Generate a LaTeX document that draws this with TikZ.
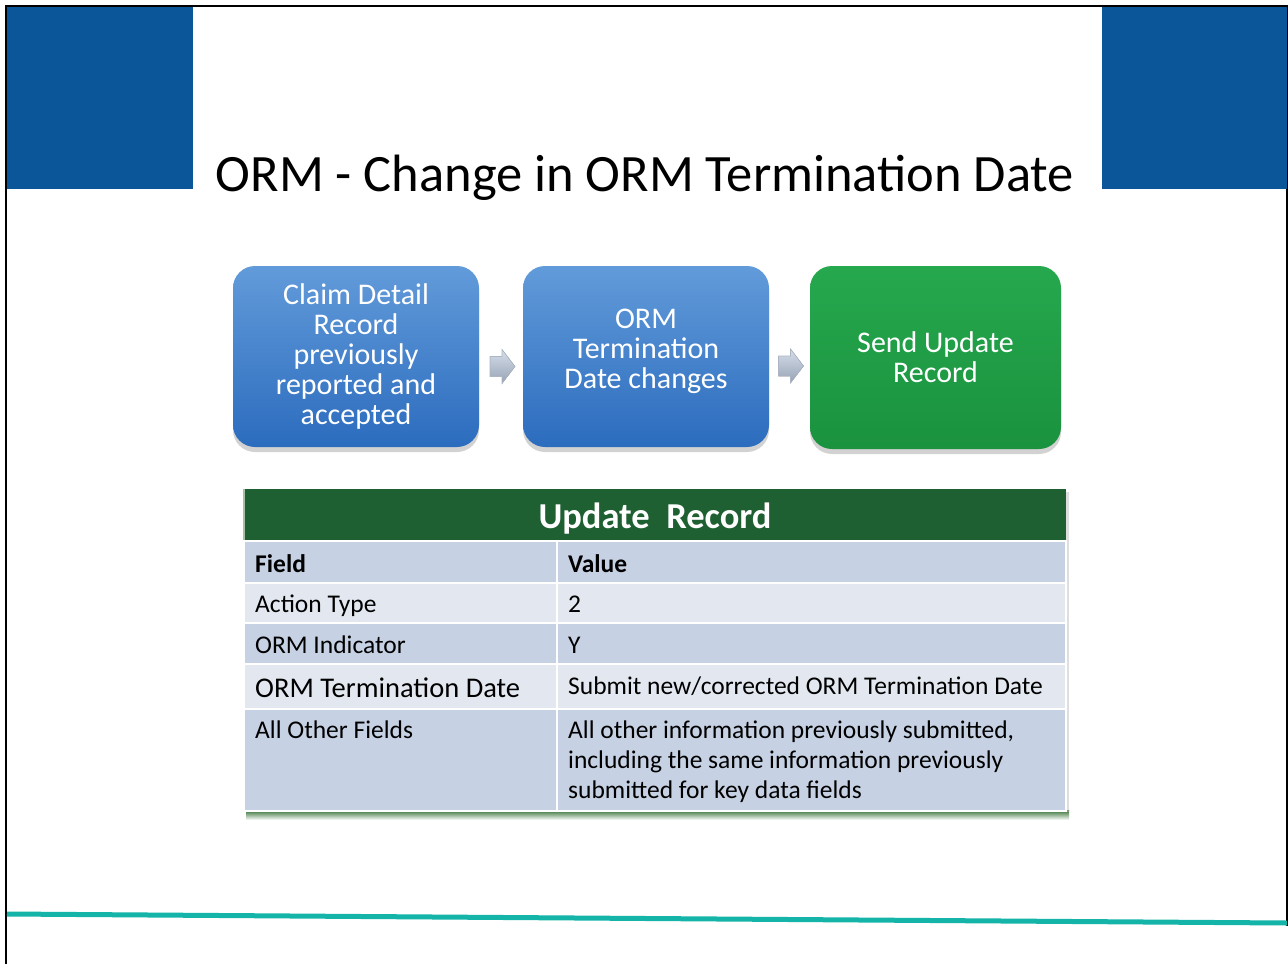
\documentclass[tikz,border=0pt]{standalone}
\usepackage{fontspec}
\setmainfont{Carlito}
\usetikzlibrary{calc,shadows}
\definecolor{hdrblue}{RGB}{11,86,153}
\definecolor{lineteal}{RGB}{20,180,168}
\definecolor{boxtop}{RGB}{98,155,218}
\definecolor{boxbot}{RGB}{44,108,190}
\definecolor{grntop}{RGB}{38,168,78}
\definecolor{grnbot}{RGB}{26,146,62}
\definecolor{tblhead}{RGB}{30,96,50}
\definecolor{rowdark}{RGB}{198,209,227}
\definecolor{rowlight}{RGB}{227,232,240}
\definecolor{arrtop}{RGB}{214,222,234}
\definecolor{arrbot}{RGB}{150,162,180}
\tikzset{
  boxfont/.style={text=white, align=center, font=\fontsize{30}{30}\selectfont},
  stepbox/.style={rounded corners=22pt, minimum width=246pt, minimum height=181pt,
    boxfont, inner sep=0pt,
    drop shadow={shadow xshift=0pt, shadow yshift=-5pt, opacity=0.35}},
  bluebox/.style={stepbox, top color=boxtop, bottom color=boxbot},
  greenbox/.style={stepbox, top color=grntop, bottom color=grnbot},
  flowarrow/.style={top color=arrtop, bottom color=arrbot, draw=arrbot!80!white, line width=0.6pt},
  celltext/.style={anchor=base west, inner sep=0pt, font=\fontsize{25.5}{30}\selectfont, text=black},
  cellbold/.style={celltext, font=\fontsize{25.5}{30}\selectfont\bfseries},
  darkcell/.style={fill=rowdark, draw=white, line width=1.5pt},
  lightcell/.style={fill=rowlight, draw=white, line width=1.5pt}
}
\begin{document}
\begin{tikzpicture}[x=1pt,y=-1pt]
\useasboundingbox (0,0) rectangle (1288,964);
\fill[white] (0,0) rectangle (1288,964);
% frame
\draw[line width=1.5pt] (6,964) -- (6,6) -- (1287,6) -- (1287,926);
% blue corner blocks
\fill[hdrblue] (7,7) rectangle (193,189);
\fill[hdrblue] (1102,7) rectangle (1287,189);
% bottom teal line
\draw[lineteal, line width=5pt] (7,914) -- (1287,923);
% title
\node[anchor=base, inner sep=0pt, font=\fontsize{52.5}{60}\selectfont] (title) at (645,191) {ORM - Change in ORM Termination Date};
% process boxes
\node[bluebox] (b1) at (356,356.5) {Claim Detail\\Record\\previously\\reported and\\accepted};
\node[bluebox] (b2) at (646,356.5) {};
\node[boxfont, inner sep=0pt] (b2t) at ($(b2.center)+(0,-5)$) {ORM\\Termination\\Date changes};
\node[greenbox, minimum width=251pt, minimum height=183pt] (b3) at (935.5,357.5) {Send Update\\Record};
% arrows
\coordinate (a1) at ($(b1.east)!0.5!(b2.west)+(1,10)$);
\coordinate (a2) at ($(b2.east)!0.5!(b3.west)+(1,9)$);
\foreach \a in {a1,a2}{
  \filldraw[flowarrow] ([shift={(-12,-10)}]\a) -- ([shift={(0,-10)}]\a) -- ([shift={(0,-17)}]\a)
    -- ([shift={(13,0)}]\a) -- ([shift={(0,17)}]\a) -- ([shift={(0,10)}]\a)
    -- ([shift={(-12,10)}]\a) -- cycle;
}
% table
\shade[top color=green!30!black, bottom color=white, opacity=0.8] (246,810) rectangle (1069,820);
\fill[black!25, opacity=0.5] (1066,492) rectangle (1069,812);
\fill[tblhead] (244,489) rectangle (1066,540);
\draw[green!20!gray!60, line width=1.5pt] (244,489) -- (244,811);
\path[darkcell] (244,541) rectangle (557,583);
\path[darkcell] (557,541) rectangle (1066,583);
\path[lightcell] (244,583) rectangle (557,623);
\path[lightcell] (557,583) rectangle (1066,623);
\path[darkcell] (244,623) rectangle (557,664);
\path[darkcell] (557,623) rectangle (1066,664);
\path[lightcell] (244,664) rectangle (557,709);
\path[lightcell] (557,664) rectangle (1066,709);
\path[darkcell] (244,709) rectangle (557,811);
\path[darkcell] (557,709) rectangle (1066,811);
\node[anchor=base, inner sep=0pt, text=white, font=\fontsize{36.5}{40}\selectfont\bfseries] (hdr) at (655,528) {Update\ \ Record};
\node[cellbold] (h1) at (255,572) {Field};
\node[cellbold] (h2) at (568,572) {Value};
\node[celltext] (r1a) at (255,612) {Action Type};
\node[celltext] (r1b) at (568,612) {2};
\node[celltext] (r2a) at (255,653) {ORM Indicator};
\node[celltext] (r2b) at (568,653) {Y};
\node[celltext, font=\fontsize{28.5}{30}\selectfont] (r3a) at (255,697) {ORM Termination Date};
\node[celltext] (r3b) at (568,694) {Submit new/corrected ORM Termination Date};
\node[celltext] (r4a) at (255,738) {All Other Fields};
\node[celltext, anchor=north west, align=left] (r4b) at (568,721) {All other information previously submitted,\\including the same information previously\\submitted for key data fields};
\end{tikzpicture}
\end{document}
